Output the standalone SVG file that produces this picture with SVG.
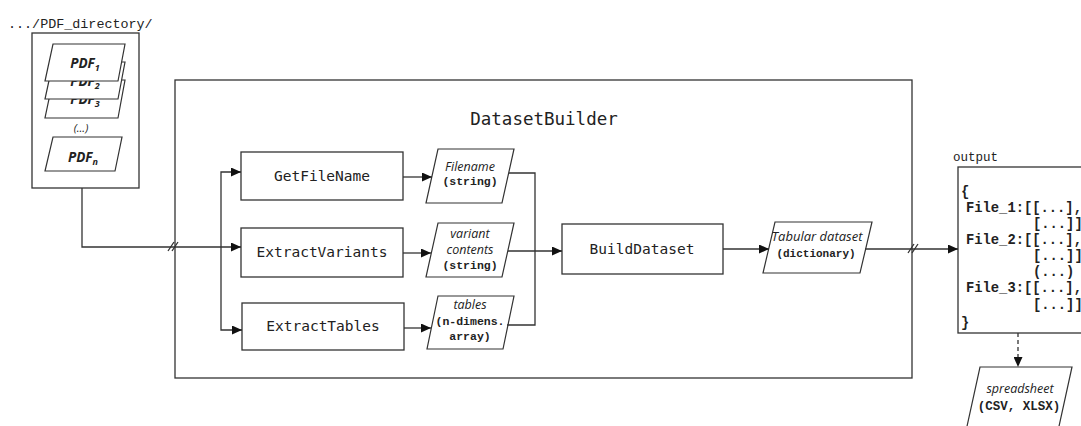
<svg xmlns="http://www.w3.org/2000/svg" width="1081" height="426" viewBox="0 0 1081 426">
  <style>
    .box { fill: #fff; stroke: #333; stroke-width: 1.3; }
    .data { fill: #fff; stroke: #333; stroke-width: 1.2; }
    .line { fill: none; stroke: #333; stroke-width: 1.3; }
    .dash { fill: none; stroke: #333; stroke-width: 1.3; stroke-dasharray: 4 3; }
    .mono { font-family: "DejaVu Sans Mono", "Liberation Mono", monospace; fill: #222; text-anchor: middle; }
    .code { font-family: "Liberation Mono", "Courier New", monospace; fill: #222; }
    .codeb { font-family: "Liberation Mono", "Courier New", monospace; font-weight: bold; fill: #222; }
    .ital { font-family: "Open Sans", "Noto Sans", sans-serif; font-style: italic; fill: #222; text-anchor: middle; }
    .pdf { font-family: "Open Sans", "Noto Sans", sans-serif; font-style: italic; font-weight: bold; font-size: 13.5px; fill: #222; text-anchor: middle; }
  </style>
  <defs>
    <marker id="arrow" markerUnits="userSpaceOnUse" markerWidth="10" markerHeight="9" refX="10" refY="4.5" orient="auto">
      <path d="M0,0 L10,4.5 L0,9 z" fill="#111"/>
    </marker>
  </defs>

  <rect width="1081" height="426" fill="#fff"/>

  <!-- input folder holding the PDF files -->
  <g id="pdf-directory">
    <text class="code" x="8" y="28" font-size="13.4">.../PDF_directory/</text>
    <rect class="box" x="32" y="33" width="107" height="155"/>
    <g id="pdf3">
      <polygon class="data" points="53,80 125,80 118,118 45,118"/>
      <text class="pdf" x="85" y="104">PDF<tspan font-size="9" dy="3">3</tspan></text>
    </g>
    <g id="pdf2">
      <polygon class="data" points="53,62 125,62 118,99 45,99"/>
      <text class="pdf" x="85" y="86">PDF<tspan font-size="9" dy="3">2</tspan></text>
    </g>
    <g id="pdf1">
      <polygon class="data" points="53,44 125,44 118,81 45,81"/>
      <text class="pdf" x="85" y="68">PDF<tspan font-size="9" dy="3">1</tspan></text>
    </g>
    <text class="ital" x="81" y="132" font-size="11">(...)</text>
    <g id="pdfn">
      <polygon class="data" points="53,137 122,137 115,171 45,171"/>
      <text class="pdf" x="83" y="162">PDF<tspan font-size="9" dy="3">n</tspan></text>
    </g>
  </g>

  <!-- DatasetBuilder container -->
  <g id="dataset-builder">
    <rect class="box" x="175" y="80" width="737" height="298"/>
    <text class="mono" x="544" y="125" font-size="17.5">DatasetBuilder</text>
  </g>

  <g id="get-file-name">
    <rect class="box" x="241" y="152" width="162" height="48"/>
    <text class="mono" x="322" y="181" font-size="14.5">GetFileName</text>
  </g>
  <g id="extract-variants">
    <rect class="box" x="241" y="228" width="162" height="49"/>
    <text class="mono" x="322" y="257" font-size="14.5">ExtractVariants</text>
  </g>
  <g id="extract-tables">
    <rect class="box" x="242" y="303" width="162" height="47"/>
    <text class="mono" x="323" y="331" font-size="14.5">ExtractTables</text>
  </g>

  <g id="filename-data">
    <polygon class="data" points="438,149 514,149 502,203 426,203"/>
    <text class="ital" x="470" y="171" font-size="12.5">Filename</text>
    <text class="codeb" x="470" y="185" font-size="11.5" text-anchor="middle">(string)</text>
  </g>
  <g id="variants-data">
    <polygon class="data" points="438,223 514,223 502,277 426,277"/>
    <text class="ital" x="470" y="238" font-size="12.5">variant</text>
    <text class="ital" x="470" y="254" font-size="12.5">contents</text>
    <text class="codeb" x="470" y="269" font-size="11.5" text-anchor="middle">(string)</text>
  </g>
  <g id="tables-data">
    <polygon class="data" points="438,296 514,296 503,349 427,349"/>
    <text class="ital" x="470" y="309" font-size="12.5">tables</text>
    <text class="codeb" x="470" y="325" font-size="11.5" text-anchor="middle">(n-dimens.</text>
    <text class="codeb" x="470" y="340" font-size="11.5" text-anchor="middle">array)</text>
  </g>

  <g id="build-dataset">
    <rect class="box" x="562" y="224" width="161" height="50"/>
    <text class="mono" x="642" y="254" font-size="14.5">BuildDataset</text>
  </g>

  <g id="tabular-dataset">
    <polygon class="data" points="775,222 872,222 860,273 763,273"/>
    <text class="ital" x="817" y="241" font-size="13">Tabular dataset</text>
    <text class="codeb" x="816" y="257" font-size="11" text-anchor="middle">(dictionary)</text>
  </g>

  <!-- resulting dictionary -->
  <g id="output">
    <text class="code" x="953" y="161" font-size="12.5">output</text>
    <rect class="box" x="958" y="167" width="140" height="166"/>
    <g class="codeb" font-size="13.8">
      <text x="961" y="196">{</text>
      <text x="966" y="212">File_1:[[...],</text>
      <text x="1033" y="228">[...]],</text>
      <text x="966" y="244">File_2:[[...],</text>
      <text x="1033" y="260">[...]],</text>
      <text x="1033" y="276">(...)</text>
      <text x="966" y="292">File_3:[[...],</text>
      <text x="1033" y="309">[...]]</text>
      <text x="961" y="327">}</text>
    </g>
  </g>

  <g id="spreadsheet">
    <polygon class="data" points="980,367 1072,367 1056,440 964,440"/>
    <text class="ital" x="1020" y="393" font-size="12.5">spreadsheet</text>
    <text class="codeb" x="1019" y="410" font-size="12.5" text-anchor="middle">(CSV, XLSX)</text>
  </g>

  <!-- connectors -->
  <g id="connectors">
    <!-- directory into the builder -->
    <path class="line" d="M82,188 V247 H241" marker-end="url(#arrow)"/>
    <path class="line" d="M168,251 L174,242 M172,251 L178,242"/>
    <!-- fan-out to the three extractors -->
    <path class="line" d="M221,247 V172 H241" marker-end="url(#arrow)"/>
    <path class="line" d="M221,247 V330 H242" marker-end="url(#arrow)"/>
    <!-- extractors to their outputs -->
    <path class="line" d="M403,177 H432" marker-end="url(#arrow)"/>
    <path class="line" d="M403,253 H431" marker-end="url(#arrow)"/>
    <path class="line" d="M404,328 H431" marker-end="url(#arrow)"/>
    <!-- gather into BuildDataset -->
    <path class="line" d="M509,173 H535 V325 H507"/>
    <path class="line" d="M508,251 H562" marker-end="url(#arrow)"/>
    <path class="line" d="M723,249 H769" marker-end="url(#arrow)"/>
    <!-- out of the builder -->
    <path class="line" d="M865,249 H958" marker-end="url(#arrow)"/>
    <path class="line" d="M908,253 L914,244 M912,253 L918,244"/>
    <!-- export -->
    <path class="dash" d="M1018,333 V367" marker-end="url(#arrow)"/>
  </g>
</svg>
